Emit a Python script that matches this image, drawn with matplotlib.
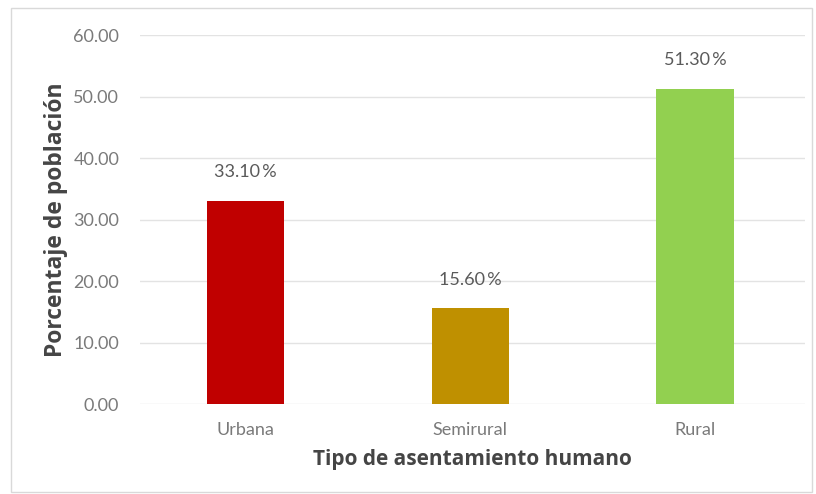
import matplotlib.pyplot as plt
from matplotlib.patches import Rectangle

categories = ['Urbana', 'Semirural', 'Rural']
values = [33.10, 15.60, 51.30]
colors = ['#C00000', '#BF9000', '#92D050']
yticks = [0, 10, 20, 30, 40, 50, 60]

plt.rcParams['font.family'] = ['Lato', 'DejaVu Sans']

fig = plt.figure(figsize=(8.16, 4.94), dpi=100)
ax = fig.add_axes([0.1716, 0.182, 0.8149, 0.747])

x = range(len(categories))
ax.bar(x, values, width=0.345, color=colors, zorder=3)
for xi, v in zip(x, values):
    ax.text(xi, v + 4.6, '%.2f\u2009%%' % v, ha='center', va='center',
            fontsize=13, color='#5a5a5a')

ax.set_xlim(-0.47, 2.49)
ax.set_ylim(0, 60)
ax.set_yticks(yticks)
ax.set_yticklabels(['%.2f' % t for t in yticks])
ax.set_xticks(list(x))
ax.set_xticklabels(categories)
ax.tick_params(length=0, labelcolor='#7a7a7a')
ax.tick_params(axis='y', pad=15, labelsize=13)
ax.tick_params(axis='x', pad=13, labelsize=13)
ax.grid(axis='y', color='#e3e3e3', linewidth=1, zorder=0)
for s in ax.spines.values():
    s.set_visible(False)

ax.set_xlabel('Tipo de asentamiento humano', fontsize=15, fontweight='bold',
              family=['Open Sans', 'DejaVu Sans'], color='#454545', labelpad=8)
ax.set_ylabel('Porcentaje de población', fontsize=16.5, fontweight='bold',
              family=['Open Sans', 'DejaVu Sans'], color='#454545', labelpad=4)

fig.patches.append(Rectangle((0.013, 0.005), 0.982, 0.978, transform=fig.transFigure,
                             fill=False, edgecolor='#d9d9d9', linewidth=1))

fig.savefig('out.png', dpi=100)
